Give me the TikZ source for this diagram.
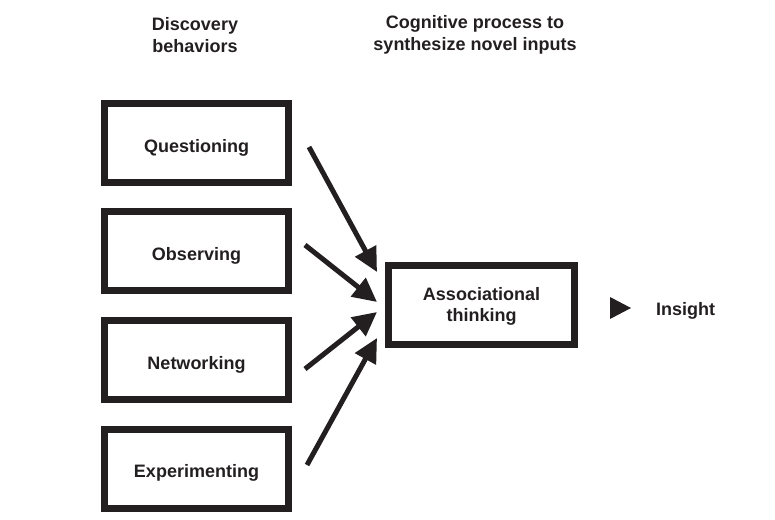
\documentclass[tikz,border=0pt]{standalone}
\usepackage{fontspec}
\setmainfont{Liberation Sans}
\usetikzlibrary{arrows.meta}
\definecolor{ink}{HTML}{231F20}
\begin{document}
\begin{tikzpicture}[x=1pt,y=-1pt,
  every node/.style={font=\fontsize{18}{22}\selectfont\bfseries, text=ink},
  behbox/.style={draw=ink, line width=7pt, minimum width=184pt, minimum height=79pt, inner sep=0pt, text height=18pt, text depth=0pt},
  assocbox/.style={draw=ink, line width=7pt, minimum width=186pt, minimum height=79pt, inner sep=0pt, align=center, text depth=0pt, font=\fontsize{18}{21}\selectfont\bfseries},
  header/.style={align=center, inner sep=0pt},
  feed/.style={draw=ink, line width=5pt, -{Triangle[length=24pt,width=23pt]}}
]
\useasboundingbox (0,0) rectangle (775,519);
\node[header] (h1) at (195,35) {Discovery\\behaviors};
\node[header] (h2) at (475,35) {Cognitive process to\\synthesize novel inputs};
\node[behbox] (q) at (196.5,143) {Questioning};
\node[behbox] (o) at (196.5,251) {Observing};
\node[behbox] (n) at (196.5,360) {Networking};
\node[behbox] (e) at (196.5,468.5) {Experimenting};
\node[assocbox] (a) at (481.5,304.5) {Associational\\thinking};
\node[inner sep=0pt, anchor=west, text depth=0pt] (ins) at (656,309) {Insight};
\fill[ink] (610,297) -- (631,308) -- (610,319) -- cycle;
\coordinate (s1) at (309,147);
\coordinate (t1) at (377,272);
\coordinate (s2) at (305,245);
\coordinate (t2) at (377,302);
\coordinate (s3) at (305,369);
\coordinate (t3) at (377,312);
\coordinate (s4) at (307,465);
\coordinate (t4) at (377,338);
\draw[feed] (s1) -- (t1);
\draw[feed] (s2) -- (t2);
\draw[feed] (s3) -- (t3);
\draw[feed] (s4) -- (t4);
\end{tikzpicture}
\end{document}
